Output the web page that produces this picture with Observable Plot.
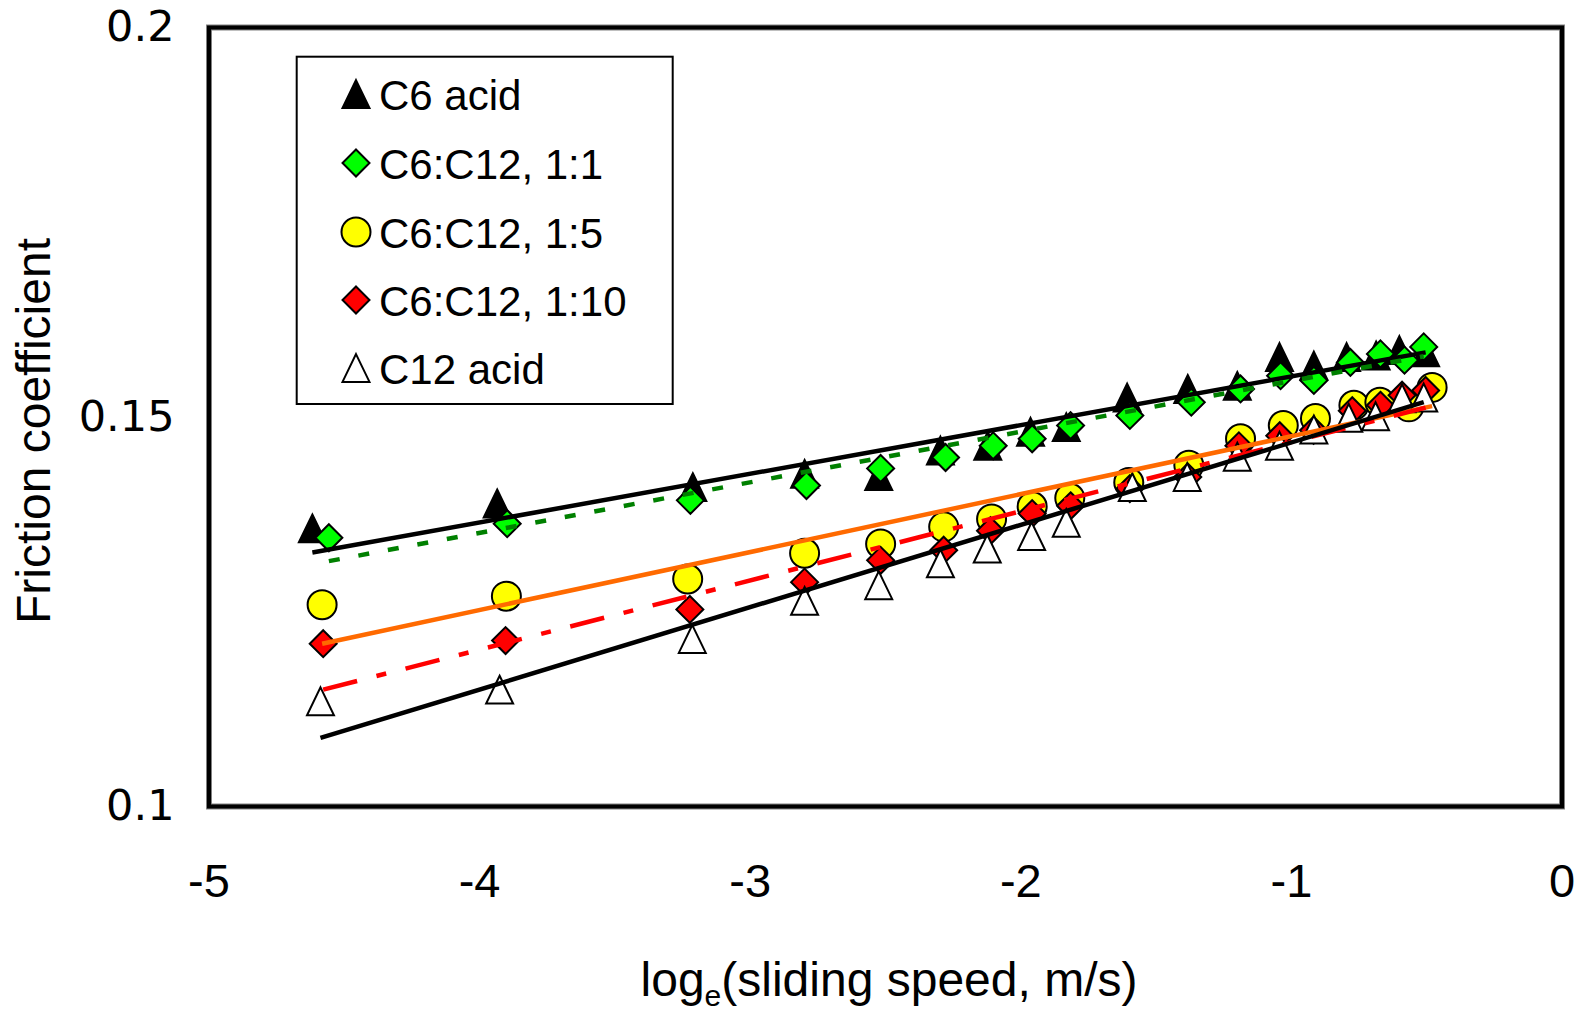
<!DOCTYPE html>
<html>
<head>
<meta charset="utf-8">
<script src="https://cdn.jsdelivr.net/npm/d3@7"></script>
<script src="https://cdn.jsdelivr.net/npm/@observablehq/plot@0.6"></script>
<style>
  html, body { margin: 0; padding: 0; background: #fff; }
  #chart { width: 1579px; height: 1011px; }
</style>
</head>
<body>
<div id="chart"></div>
<script>
// Friction coefficient against log_e(sliding speed) for C6/C12 acid blends.

// x: log_e(sliding speed, m/s) of each measurement, per series
const xC6   = [-4.618, -3.935, -3.212, -2.799, -2.525, -2.297, -2.122, -1.964, -1.832, -1.607, -1.383, -1.200, -1.044, -0.917, -0.796, -0.687, -0.601, -0.504];
const x1to1 = [-4.557, -3.898, -3.221, -2.792, -2.518, -2.278, -2.102, -1.958, -1.816, -1.597, -1.370, -1.188, -1.040, -0.917, -0.782, -0.671, -0.582, -0.511];
const x1to5 = [-4.582, -3.901, -3.231, -2.799, -2.518, -2.285, -2.108, -1.958, -1.819, -1.601, -1.379, -1.188, -1.030, -0.911, -0.769, -0.673, -0.566, -0.480];
const x1to10= [-4.578, -3.904, -3.223, -2.799, -2.518, -2.285, -2.112, -1.958, -1.816, -1.597, -1.383, -1.194, -1.043, -0.918, -0.775, -0.671, -0.591, -0.504];
const xC12  = [-4.588, -3.926, -3.214, -2.799, -2.525, -2.297, -2.124, -1.960, -1.832, -1.588, -1.385, -1.200, -1.044, -0.917, -0.788, -0.689, -0.591, -0.511];

// friction coefficient of each measurement
const muC6   = [0.1357, 0.1389, 0.1410, 0.1427, 0.1424, 0.1457, 0.1463, 0.1481, 0.1487, 0.1525, 0.1536, 0.1540, 0.1577, 0.1566, 0.1577, 0.1579, 0.1586, 0.1583];
const mu1to1 = [0.1345, 0.1363, 0.1393, 0.1412, 0.1434, 0.1448, 0.1463, 0.1472, 0.1489, 0.1502, 0.1519, 0.1536, 0.1553, 0.1547, 0.1570, 0.1581, 0.1573, 0.1590];
const mu1to5 = [0.1259, 0.1270, 0.1292, 0.1325, 0.1337, 0.1359, 0.1369, 0.1385, 0.1396, 0.1416, 0.1438, 0.1472, 0.1489, 0.1498, 0.1515, 0.1519, 0.1513, 0.1538];
const mu1to10= [0.1209, 0.1213, 0.1253, 0.1288, 0.1316, 0.1329, 0.1354, 0.1376, 0.1386, 0.1408, 0.1423, 0.1463, 0.1476, 0.1483, 0.1508, 0.1515, 0.1528, 0.1534];
const muC12  = [0.1135, 0.1150, 0.1215, 0.1264, 0.1284, 0.1312, 0.1331, 0.1347, 0.1364, 0.1410, 0.1423, 0.1449, 0.1463, 0.1484, 0.1499, 0.1501, 0.1524, 0.1525];

// trend line values at the lowest and highest speed of each series
const fitC6   = [0.1326, 0.1583];
const fit1to1 = [0.1315, 0.1578];
const fit1to5 = [0.1209, 0.1514];
const fit1to10= [0.1150, 0.1512];
const fitC12  = [0.1088, 0.1519];

const seriesNames = ["C6 acid", "C6:C12, 1:1", "C6:C12, 1:5", "C6:C12, 1:10", "C12 acid"];
const xTicks = [-5, -4, -3, -2, -1, 0];
const yTicks = [0.1, 0.15, 0.2];

// marker shapes: upward triangle and square diamond, sized from the dot radius
const triangleUp = {
  draw(ctx, size) {
    const r = Math.sqrt(size / Math.PI);
    const w = r * 0.93, h = r * 0.96;
    ctx.moveTo(0, -h); ctx.lineTo(w, h); ctx.lineTo(-w, h); ctx.closePath();
  }
};
const diamondSq = {
  draw(ctx, size) {
    const r = Math.sqrt(size / Math.PI);
    const d = r * 0.93;
    ctx.moveTo(0, -d); ctx.lineTo(d, 0); ctx.lineTo(0, d); ctx.lineTo(-d, 0); ctx.closePath();
  }
};
const circleSym = d3.symbolCircle;

const styles = [
  {symbol: triangleUp, fill: "#000000", r: 14.5, line: "#000000", dash: null},
  {symbol: diamondSq,  fill: "#00ff00", r: 14.5, line: "#008000", dash: "11,19"},
  {symbol: circleSym,  fill: "#ffff00", r: 14.5, line: "#ff6a00", dash: null},
  {symbol: diamondSq,  fill: "#ff0000", r: 14.5, line: "#ff0000", dash: "35,20,10,20"},
  {symbol: triangleUp, fill: "#ffffff", r: 14.5, line: "#000000", dash: null}
];

const xs   = [xC6, x1to1, x1to5, x1to10, xC12];
const mus  = [muC6, mu1to1, mu1to5, mu1to10, muC12];
const fits = [fitC6, fit1to1, fit1to5, fit1to10, fitC12];

const series = seriesNames.map((name, k) => ({
  name,
  points: xs[k].map((x, i) => ({x, y: mus[k][i]})),
  trend: [{x: d3.min(xs[k]), y: fits[k][0]}, {x: d3.max(xs[k]), y: fits[k][1]}],
  ...styles[k]
}));

const W = 1579, H = 1011;
const mL = 208.5, mR = 17.5, mT = 27, mB = 205;

const marks = [
  Plot.frame({stroke: "#808080", strokeWidth: 6}),
  Plot.frame({stroke: "#000000", strokeWidth: 4}),
  Plot.axisX({ticks: xTicks, tickSize: 0, tickPadding: 57, tickFormat: d => String(d),
    fontSize: 47, fontFamily: "Liberation Sans, Arial, sans-serif", label: null}),
  Plot.axisY({ticks: yTicks, tickSize: 0, tickPadding: 34.5, tickFormat: d => String(d),
    fontSize: 43, fontFamily: "DejaVu Sans, sans-serif", label: null}),
  ...series.map(s => Plot.dot(s.points, {
    x: "x", y: "y", symbol: s.symbol, r: s.r, fill: s.fill, stroke: "#000", strokeWidth: 2
  })),
  ...series.map(s => Plot.line(s.trend, {
    x: "x", y: "y", stroke: s.line, strokeWidth: 4.5, strokeDasharray: s.dash, strokeLinecap: "butt"
  }))
];

const svg = Plot.plot({
  width: W, height: H,
  marginLeft: mL, marginRight: mR, marginTop: mT, marginBottom: mB,
  x: {domain: [-5, 0]},
  y: {domain: [0.1, 0.2]},
  style: {background: "#fff", color: "#000"},
  marks
});

const root = d3.select(svg);
const font = "Liberation Sans, Arial, sans-serif";

// axis titles
const xt = root.append("text")
  .attr("x", (mL + (W - mR)) / 2 + 4).attr("y", 996)
  .attr("text-anchor", "middle").attr("font-family", font).attr("font-size", 48).attr("fill", "#000");
xt.append("tspan").text("log");
xt.append("tspan").attr("font-size", 30).attr("dy", 10).text("e");
xt.append("tspan").attr("dy", -10).text("(sliding speed, m/s)");

root.append("text")
  .attr("transform", "translate(50,431) rotate(-90)")
  .attr("text-anchor", "middle").attr("font-family", font).attr("font-size", 48).attr("fill", "#000")
  .text("Friction coefficient");

// legend box
const lg = root.append("g");
lg.append("rect").attr("x", 296.7).attr("y", 56.7).attr("width", 376).attr("height", 347.3)
  .attr("fill", "#fff").attr("stroke", "#000").attr("stroke-width", 2);
const rowY = [94, 163, 232, 300, 368];
series.forEach((s, k) => {
  lg.append("path")
    .attr("transform", `translate(356,${rowY[k]})`)
    .attr("d", d3.symbol(s.symbol, Math.PI * s.r * s.r)())
    .attr("fill", s.fill).attr("stroke", "#000").attr("stroke-width", 2);
  lg.append("text")
    .attr("x", 379).attr("y", rowY[k] + 15.5)
    .attr("text-anchor", "start")
    .attr("font-family", font).attr("font-size", 42).attr("fill", "#000")
    .text(s.name);
});

document.getElementById("chart").appendChild(svg);
</script>
</body>
</html>
